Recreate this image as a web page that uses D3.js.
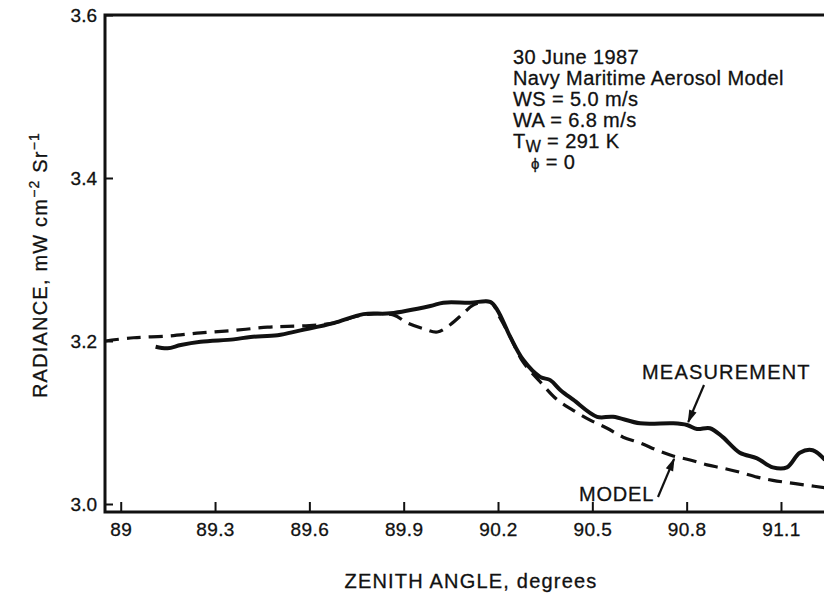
<!DOCTYPE html>
<html>
<head>
<meta charset="utf-8">
<script src="https://cdn.jsdelivr.net/npm/d3@7"></script>
<style>
  body { margin: 0; background: #fff; }
  svg text { font-family: "Liberation Sans", Arial, sans-serif; fill: #111; stroke: #111; stroke-width: 0.3px; }
</style>
</head>
<body>
<div id="chart"></div>
<script>
// measured radiance vs zenith angle
const measZenith = [89.111, 89.149, 89.191, 89.254, 89.359, 89.413, 89.499, 89.572, 89.677, 89.772,
  89.858, 89.985, 90.026, 90.112, 90.175, 90.198, 90.239, 90.280, 90.334, 90.366, 90.398, 90.439,
  90.515, 90.566, 90.652, 90.757, 90.801, 90.833, 90.874, 90.915, 90.969, 91.024, 91.074, 91.119,
  91.160, 91.201, 91.240];
const measRadiance = [3.193, 3.191, 3.195, 3.199, 3.202, 3.205, 3.207, 3.213, 3.222, 3.233,
  3.234, 3.243, 3.247, 3.247, 3.248, 3.238, 3.205, 3.177, 3.156, 3.152, 3.140, 3.128,
  3.107, 3.107, 3.099, 3.099, 3.097, 3.092, 3.093, 3.082, 3.063, 3.056, 3.045, 3.045,
  3.063, 3.066, 3.054];

// model curve
const modelZenith = [88.95, 89.041, 89.149, 89.254, 89.359, 89.467, 89.530, 89.600, 89.677, 89.772,
  89.867, 89.912, 89.963, 90.007, 90.048, 90.090, 90.121, 90.175, 90.207, 90.239, 90.280, 90.334,
  90.388, 90.439, 90.493, 90.547, 90.598, 90.652, 90.706, 90.757, 90.811, 90.865, 90.915, 90.969,
  91.024, 91.074, 91.128, 91.182, 91.240];
const modelRadiance = [3.200, 3.204, 3.206, 3.210, 3.213, 3.217, 3.218, 3.219, 3.222, 3.232,
  3.232, 3.222, 3.215, 3.211, 3.220, 3.234, 3.244, 3.248, 3.228, 3.205, 3.174, 3.150,
  3.128, 3.115, 3.103, 3.093, 3.082, 3.075, 3.066, 3.059, 3.054, 3.048, 3.044, 3.039,
  3.033, 3.029, 3.026, 3.023, 3.020];

const xTicks = [89, 89.3, 89.6, 89.9, 90.2, 90.5, 90.8, 91.1];
const yTicks = [3.0, 3.2, 3.4, 3.6];

const notes = ["30 June 1987", "Navy Maritime Aerosol Model", "WS = 5.0 m/s", "WA = 6.8 m/s"];

const W = 824, H = 594;
const padL = 105, padR = 825, padT = 15, axisY = 512;

const svg = d3.select("#chart").append("svg")
  .attr("width", W)
  .attr("height", H);

const x = d3.scaleLinear().domain([88.95, 91.24]).range([padL, padR]);
const y = d3.scaleLinear().domain([3.0, 3.6]).range([504, padT]);

// frame: left, top, bottom
svg.append("path")
  .attr("d", `M${padR},${padT}H${padL}V${axisY}H${padR}`)
  .attr("fill", "none")
  .attr("stroke", "#111")
  .attr("stroke-width", 3);

const yAxis = d3.axisLeft(y)
  .tickValues(yTicks)
  .tickFormat(d3.format(".1f"))
  .tickSize(-8)
  .tickPadding(8);
const gy = svg.append("g").attr("transform", `translate(${padL},0)`).call(yAxis);
gy.select(".domain").remove();
gy.selectAll("line").attr("stroke", "#111").attr("stroke-width", 2);
gy.selectAll("text").style("font-size", "19px").style("font-family", "Liberation Sans, Arial, sans-serif");

const xAxis = d3.axisBottom(x)
  .tickValues(xTicks)
  .tickFormat(d => d)
  .tickSize(-10)
  .tickPadding(11);
const gx = svg.append("g").attr("transform", `translate(0,${axisY})`).call(xAxis);
gx.select(".domain").remove();
gx.selectAll("line").attr("stroke", "#111").attr("stroke-width", 2);
gx.selectAll("text").style("font-size", "19px").style("font-family", "Liberation Sans, Arial, sans-serif")
  .style("letter-spacing", "0.4px")
  .attr("dy", "0.71em");

const line = d3.line()
  .x(d => x(d[0]))
  .y(d => y(d[1]))
  .curve(d3.curveCatmullRom.alpha(0.5));

svg.append("clipPath").attr("id", "plot-clip")
  .append("rect").attr("x", padL).attr("y", padT).attr("width", padR - padL).attr("height", axisY - padT);

const plot = svg.append("g").attr("clip-path", "url(#plot-clip)");

plot.append("path")
  .datum(d3.zip(modelZenith, modelRadiance))
  .attr("d", line)
  .attr("fill", "none")
  .attr("stroke", "#111")
  .attr("stroke-width", 3.2)
  .attr("stroke-dasharray", "14,8");

plot.append("path")
  .datum(d3.zip(measZenith, measRadiance))
  .attr("d", line)
  .attr("fill", "none")
  .attr("stroke", "#111")
  .attr("stroke-width", 4)
  .attr("stroke-linejoin", "round");

// axis titles
svg.append("text")
  .attr("x", (padL + padR) / 2 + 6)
  .attr("y", 588)
  .attr("text-anchor", "middle")
  .style("font-size", "20px")
  .style("letter-spacing", "1.2px")
  .text("ZENITH ANGLE, degrees");

const yt = svg.append("text")
  .attr("transform", `translate(47,265) rotate(-90)`)
  .attr("text-anchor", "middle")
  .style("font-size", "20px")
  .style("letter-spacing", "1.2px");
yt.append("tspan").text("RADIANCE, mW cm");
yt.append("tspan").attr("dy", -8).style("font-size", "14px").text("\u22122");
yt.append("tspan").attr("dy", 8).text(" Sr");
yt.append("tspan").attr("dy", -8).style("font-size", "14px").text("\u22121");

// parameter block
const nb = svg.append("g").attr("transform", "translate(513,0)")
  .style("font-size", "20px").style("letter-spacing", "0.4px");
notes.forEach((t, i) => {
  nb.append("text").attr("x", 0).attr("y", 64 + i * 21).text(t);
});
const tw = nb.append("text").attr("x", 0).attr("y", 64 + 4 * 21);
tw.append("tspan").text("T");
tw.append("tspan").attr("dy", 4).style("font-size", "16px").text("W");
tw.append("tspan").attr("dy", -4).text(" = 291 K");
const ph = nb.append("text").attr("x", 18).attr("y", 169);
ph.append("tspan").style("font-size", "15px").text("\u03d5");
ph.append("tspan").text(" = 0");

// curve labels with arrows
svg.append("defs").append("marker")
  .attr("id", "arrow")
  .attr("viewBox", "0 0 10 10")
  .attr("refX", 9).attr("refY", 5)
  .attr("markerWidth", 7).attr("markerHeight", 6)
  .attr("orient", "auto")
  .append("path").attr("d", "M0,2L10,5L0,8Z").attr("fill", "#111");

svg.append("text").attr("x", 642).attr("y", 379)
  .style("font-size", "20px").style("letter-spacing", "1.2px").text("MEASUREMENT");
svg.append("line")
  .attr("x1", 704).attr("y1", 385).attr("x2", x(90.805)).attr("y2", y(3.097) - 3)
  .attr("stroke", "#111").attr("stroke-width", 2.2).attr("marker-end", "url(#arrow)");

svg.append("text").attr("x", 579).attr("y", 501)
  .style("font-size", "20px").style("letter-spacing", "0.8px").text("MODEL");
svg.append("line")
  .attr("x1", 658).attr("y1", 497).attr("x2", x(90.76)).attr("y2", y(3.059) + 3)
  .attr("stroke", "#111").attr("stroke-width", 2.2).attr("marker-end", "url(#arrow)");
</script>
</body>
</html>
